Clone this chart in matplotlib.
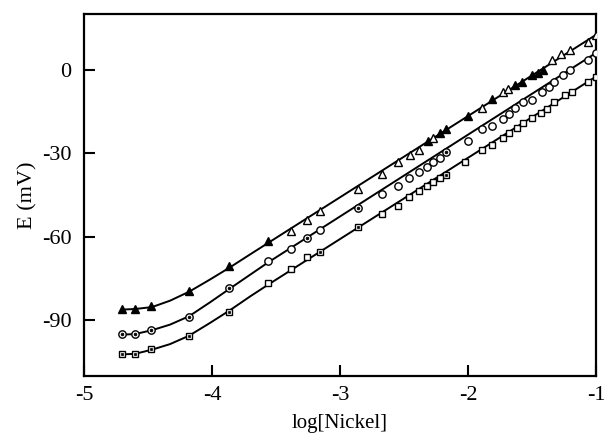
import matplotlib
matplotlib.use("Agg")
import matplotlib.pyplot as plt

plt.rcParams['font.family'] = ['Liberation Serif', 'DejaVu Serif']

# ---------------- data ----------------
# Triangles (top series)
tri_fill_x = [-4.70, -4.60, -4.48, -4.18, -3.87, -3.56, -2.31, -2.22, -2.17, -2.00,
              -1.81, -1.63, -1.58, -1.50, -1.45, -1.41]
tri_fill_y = [-86.0, -86.0, -84.9, -79.6, -70.6, -61.6, -25.8, -22.6, -21.5, -16.8,
              -10.4, -5.4, -4.3, -1.8, -1.1, 0.0]
tri_open_x = [-3.38, -3.26, -3.16, -2.86, -2.67, -2.55, -2.45, -2.38, -2.27, -1.89,
              -1.73, -1.69, -1.34, -1.27, -1.20, -1.06, -1.00]
tri_open_y = [-58.1, -54.1, -50.9, -43.0, -37.6, -33.3, -30.5, -28.7, -24.7, -13.6,
              -8.2, -6.8, 3.6, 5.5, 7.0, 10.0, 12.5]

# Circles (middle series)
cir_fill_x = [-4.70, -4.60, -4.48, -4.18, -3.87, -3.26, -2.86, -2.17]
cir_fill_y = [-95.0, -95.0, -93.5, -88.9, -78.5, -60.6, -49.8, -29.7]
cir_open_x = [-3.56, -3.38, -3.16, -2.67, -2.55, -2.46, -2.38, -2.32, -2.27, -2.22,
              -2.00, -1.89, -1.81, -1.73, -1.68, -1.63, -1.57, -1.50, -1.42, -1.37,
              -1.33, -1.26, -1.20, -1.06, -1.00]
cir_open_y = [-68.8, -64.5, -57.7, -44.8, -41.9, -39.1, -36.9, -34.8, -33.3, -31.9,
              -25.8, -21.5, -20.1, -17.6, -16.1, -13.6, -11.8, -10.8, -8.2, -6.1,
              -4.3, -1.8, 0.0, 3.6, 6.0]

# Squares (bottom series)
sq_fill_x = [-4.70, -4.60, -4.48, -4.18, -3.87, -3.16, -2.86, -2.17]
sq_fill_y = [-102.2, -102.2, -100.4, -95.7, -87.1, -65.6, -56.6, -38.0]
sq_open_x = [-3.56, -3.38, -3.26, -2.67, -2.55, -2.46, -2.38, -2.32, -2.27, -2.22,
             -2.02, -1.89, -1.81, -1.73, -1.68, -1.62, -1.57, -1.50, -1.43, -1.38,
             -1.33, -1.24, -1.19, -1.06, -1.00]
sq_open_y = [-76.7, -71.7, -67.4, -52.0, -49.1, -45.9, -43.7, -41.9, -40.5, -39.1,
             -33.0, -28.7, -26.9, -24.4, -22.9, -20.8, -19.0, -17.2, -15.4, -14.0,
             -11.8, -9.0, -7.9, -4.3, -2.5]

# Fitted curves (knots)
fit_x = [-4.703, -4.602, -4.469, -4.328, -4.180, -4.016, -3.859, -3.700, -3.560, -1.0]
fit_tri = [-86.2, -86.0, -85.3, -83.0, -79.8, -75.4, -71.0, -66.3, -62.2, 12.5]
fit_cir = [-95.2, -95.0, -93.6, -91.6, -88.6, -83.6, -78.6, -73.6, -69.2, 6.0]
fit_sq = [-102.3, -102.1, -100.6, -98.6, -95.6, -91.0, -86.4, -81.4, -77.2, -2.5]

xticks = [-5, -4, -3, -2, -1]
yticks = [0, -30, -60, -90]

# ---------------- figure ----------------
fig = plt.figure(figsize=(6.05, 4.37), dpi=100)
ax = fig.add_axes([0.139, 0.14, 0.846, 0.828])

lw = 1.4
for fy in (fit_tri, fit_cir, fit_sq):
    ax.plot(fit_x, fy, color='black', lw=lw, zorder=2)

ms = 5.3
mew = 1.0
ax.plot(tri_fill_x, tri_fill_y, '^', ms=ms, mfc='black', mec='black', mew=mew, zorder=3)
ax.plot(tri_open_x, tri_open_y, '^', ms=ms, mfc='white', mec='black', mew=mew, zorder=3)
ax.plot(cir_fill_x, cir_fill_y, 'o', ms=ms, mfc='white', mec='black', mew=mew, zorder=3)
ax.plot(cir_fill_x, cir_fill_y, 'o', ms=2, mfc='black', mec='black', mew=0.5, zorder=4)
ax.plot(cir_open_x, cir_open_y, 'o', ms=ms, mfc='white', mec='black', mew=mew, zorder=3)
ax.plot(sq_fill_x, sq_fill_y, 's', ms=4.8, mfc='white', mec='black', mew=mew, zorder=3)
ax.plot(sq_fill_x, sq_fill_y, 's', ms=2, mfc='black', mec='black', mew=0.5, zorder=4)
ax.plot(sq_open_x, sq_open_y, 's', ms=4.8, mfc='white', mec='black', mew=mew, zorder=3)

ax.set_xlim(-5, -1)
ax.set_ylim(-110, 20)
ax.set_xticks(xticks)
ax.set_yticks(yticks)
ax.set_xticklabels([str(t) for t in xticks])
ax.set_yticklabels([str(t) for t in yticks])

for s in ax.spines.values():
    s.set_linewidth(1.6)
ax.tick_params(direction='in', length=8, width=1.5, labelsize=16, top=False, right=False)
ax.tick_params(axis='x', pad=7)
ax.tick_params(axis='y', pad=9)

ax.set_xlabel('log[Nickel]', fontsize=15, labelpad=7)
ax.set_ylabel('E (mV)', fontsize=16, labelpad=3)

fig.savefig('out.png', dpi=100)
